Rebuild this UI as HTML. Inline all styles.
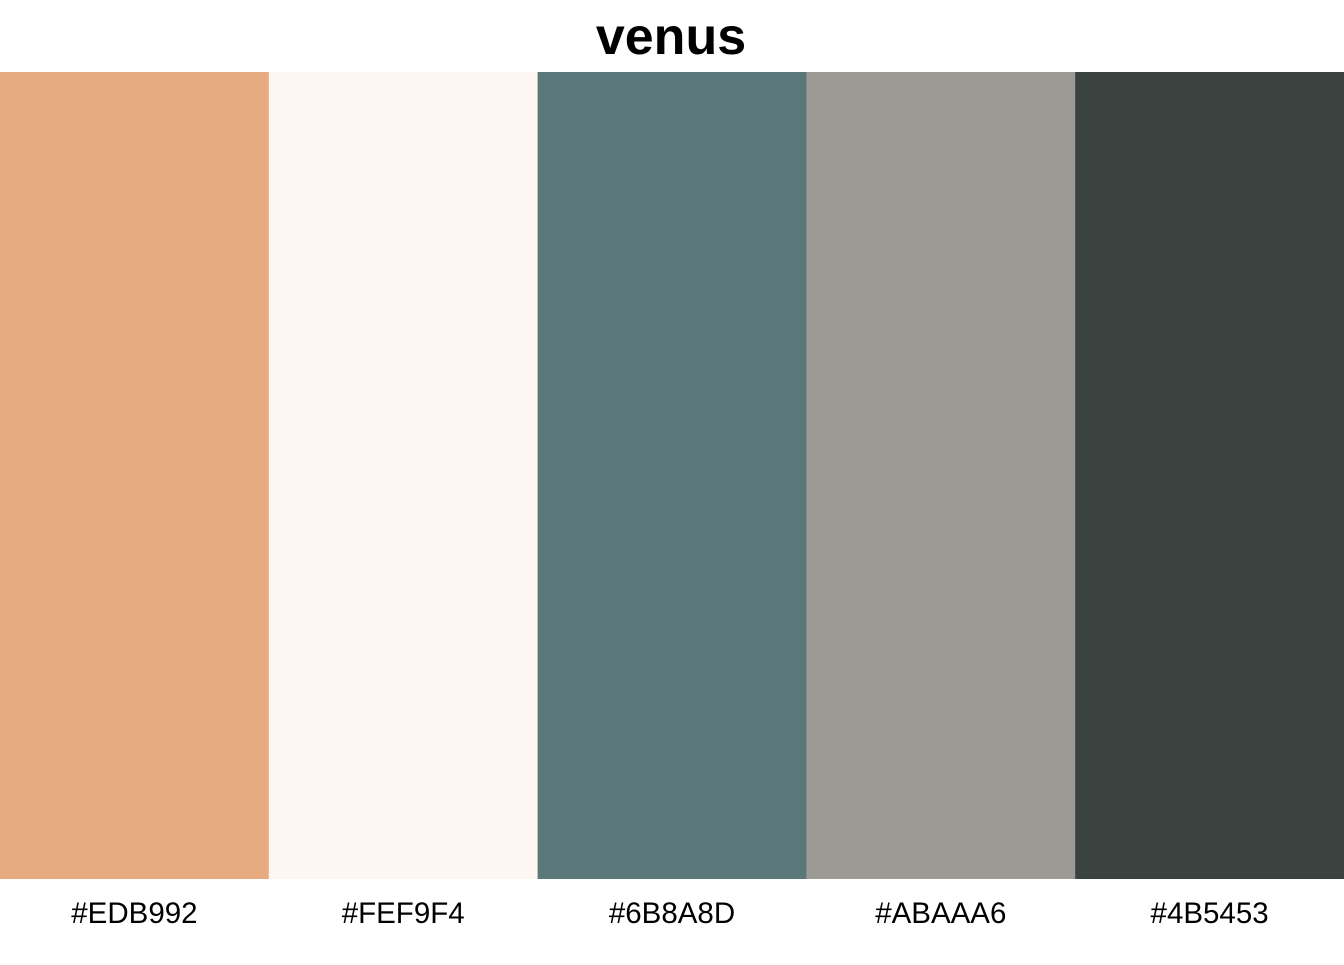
<!DOCTYPE html>
<html>
<head>
<meta charset="utf-8">
<style>
  html,body{margin:0;padding:0;background:#fff;}
  body{width:1344px;height:960px;overflow:hidden;font-family:"Liberation Sans",Arial,sans-serif;}
</style>
</head>
<body>
<svg id="chart" width="1344" height="960" xmlns="http://www.w3.org/2000/svg">
  <text x="671" y="54" text-anchor="middle" font-family="Liberation Sans, Arial, sans-serif" font-weight="bold" font-size="52" fill="#000">venus</text>
</svg>
<script>
const labels = ["#EDB992", "#FEF9F4", "#6B8A8D", "#ABAAA6", "#4B5453"];
const fills = ["#E6AB80", "#FEF7F1", "#5A7879", "#9B9A95", "#3A4340"];

const svgEl = document.getElementById('chart');
const NS = "http://www.w3.org/2000/svg";
const plotLeft = 0, plotRight = 1344, plotTop = 72, plotBottom = 879;
const bw = (plotRight - plotLeft) / labels.length;
function xPos(i){ return plotLeft + i * bw; }

labels.forEach((lab, i) => {
  const r = document.createElementNS(NS, 'rect');
  
  
  r.setAttribute('x', xPos(i));
  r.setAttribute('y', plotTop);
  r.setAttribute('width', bw + 0.5);
  r.setAttribute('height', plotBottom - plotTop);
  r.setAttribute('fill', fills[i]);
  svgEl.appendChild(r);

  const t = document.createElementNS(NS, 'text');
  
  
  t.setAttribute('x', xPos(i) + bw / 2);
  t.setAttribute('y', 923);
  t.setAttribute('text-anchor', 'middle');
  t.setAttribute('font-family', 'Liberation Sans, Arial, sans-serif');
  t.setAttribute('font-size', '29.5');
  t.setAttribute('fill', '#000');
  t.textContent = lab;
  svgEl.appendChild(t);
});
</script>
</body>
</html>
